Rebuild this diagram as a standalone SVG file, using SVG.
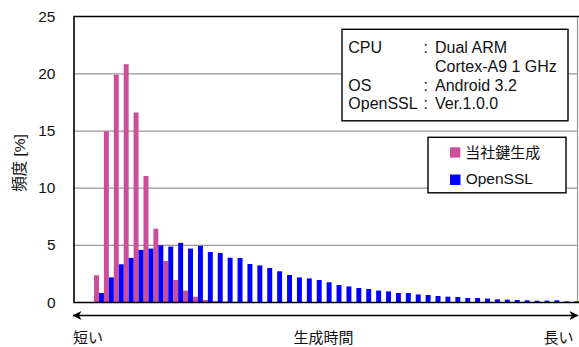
<svg xmlns="http://www.w3.org/2000/svg" width="579" height="347" viewBox="0 0 579 347">
<style>
.t{font-family:"Liberation Sans","Noto Sans CJK JP",sans-serif;font-size:15.5px;fill:#111}
.s{font-size:16px}
.j{font-family:"Noto Sans CJK JP","Liberation Sans",sans-serif;font-size:15px;fill:#111}
.grid{stroke:#999;stroke-width:1.2}
.ax{stroke:#000;stroke-width:1.6;fill:none}
.p{fill:#CC4E9A}
.b{fill:#0000FF}
.box{fill:#fff;stroke:#000;stroke-width:1.4}
</style>
<defs>
<marker id="ah" markerUnits="userSpaceOnUse" viewBox="0 0 9 9" refX="8.5" refY="4.5" markerWidth="9" markerHeight="9" orient="auto-start-reverse">
<path d="M0,0 L9,4.5 L0,9 L2.5,4.5 z" fill="#000"/>
</marker>
</defs>
<rect width="579" height="347" fill="#fff"/>
<g id="gridlines">
<line class="grid" x1="74" y1="245.35" x2="578" y2="245.35"/>
<line class="grid" x1="74" y1="188.2" x2="578" y2="188.2"/>
<line class="grid" x1="74" y1="131.05" x2="578" y2="131.05"/>
<line class="grid" x1="74" y1="73.9" x2="578" y2="73.9"/>
<line class="grid" x1="577.5" y1="16.5" x2="577.5" y2="302.5"/>
</g>
<g id="series-pink">
<rect class="p" x="94" y="275.3" width="4.95" height="27.2"/>
<rect class="p" x="103.9" y="131.3" width="4.95" height="171.2"/>
<rect class="p" x="113.8" y="74.6" width="4.95" height="227.9"/>
<rect class="p" x="123.7" y="64.2" width="4.95" height="238.3"/>
<rect class="p" x="133.6" y="112.5" width="4.95" height="190"/>
<rect class="p" x="143.5" y="176" width="4.95" height="126.5"/>
<rect class="p" x="153.4" y="228.7" width="4.95" height="73.8"/>
<rect class="p" x="163.3" y="261" width="4.95" height="41.5"/>
<rect class="p" x="173.2" y="280" width="4.95" height="22.5"/>
<rect class="p" x="183.1" y="290.6" width="4.95" height="11.9"/>
<rect class="p" x="193" y="296.7" width="4.95" height="5.8"/>
<rect class="p" x="202.9" y="300" width="4.95" height="2.5"/>
<rect class="p" x="212.8" y="301" width="4.95" height="1.5"/>
<rect class="p" x="222.7" y="301.6" width="4.95" height="0.9"/>
</g>
<g id="series-blue">
<rect class="b" x="98.95" y="293" width="4.95" height="9.5"/>
<rect class="b" x="108.85" y="277.4" width="4.95" height="25.1"/>
<rect class="b" x="118.75" y="264.3" width="4.95" height="38.2"/>
<rect class="b" x="128.65" y="257.9" width="4.95" height="44.6"/>
<rect class="b" x="138.55" y="249.9" width="4.95" height="52.6"/>
<rect class="b" x="148.45" y="248.6" width="4.95" height="53.9"/>
<rect class="b" x="158.35" y="245.3" width="4.95" height="57.2"/>
<rect class="b" x="168.25" y="246.6" width="4.95" height="55.9"/>
<rect class="b" x="178.15" y="242.9" width="4.95" height="59.6"/>
<rect class="b" x="188.05" y="248.6" width="4.95" height="53.9"/>
<rect class="b" x="197.95" y="245.9" width="4.95" height="56.6"/>
<rect class="b" x="207.85" y="252" width="4.95" height="50.5"/>
<rect class="b" x="217.75" y="253" width="4.95" height="49.5"/>
<rect class="b" x="227.65" y="257.7" width="4.95" height="44.8"/>
<rect class="b" x="237.55" y="258" width="4.95" height="44.5"/>
<rect class="b" x="247.45" y="264" width="4.95" height="38.5"/>
<rect class="b" x="257.35" y="265.4" width="4.95" height="37.1"/>
<rect class="b" x="267.25" y="268" width="4.95" height="34.5"/>
<rect class="b" x="277.15" y="271.3" width="4.95" height="31.2"/>
<rect class="b" x="287.05" y="275" width="4.95" height="27.5"/>
<rect class="b" x="296.95" y="277.4" width="4.95" height="25.1"/>
<rect class="b" x="306.85" y="278.4" width="4.95" height="24.1"/>
<rect class="b" x="316.75" y="280" width="4.95" height="22.5"/>
<rect class="b" x="326.65" y="282.3" width="4.95" height="20.2"/>
<rect class="b" x="336.55" y="285" width="4.95" height="17.5"/>
<rect class="b" x="346.45" y="286.4" width="4.95" height="16.1"/>
<rect class="b" x="356.35" y="288" width="4.95" height="14.5"/>
<rect class="b" x="366.25" y="289" width="4.95" height="13.5"/>
<rect class="b" x="376.15" y="290.6" width="4.95" height="11.9"/>
<rect class="b" x="386.05" y="291.4" width="4.95" height="11.1"/>
<rect class="b" x="395.95" y="293" width="4.95" height="9.5"/>
<rect class="b" x="405.85" y="293" width="4.95" height="9.5"/>
<rect class="b" x="415.75" y="294.4" width="4.95" height="8.1"/>
<rect class="b" x="425.65" y="295" width="4.95" height="7.5"/>
<rect class="b" x="435.55" y="296" width="4.95" height="6.5"/>
<rect class="b" x="445.45" y="296.7" width="4.95" height="5.8"/>
<rect class="b" x="455.35" y="297" width="4.95" height="5.5"/>
<rect class="b" x="465.25" y="298" width="4.95" height="4.5"/>
<rect class="b" x="475.15" y="298" width="4.95" height="4.5"/>
<rect class="b" x="485.05" y="298.6" width="4.95" height="3.9"/>
<rect class="b" x="494.95" y="299.3" width="4.95" height="3.2"/>
<rect class="b" x="504.85" y="299.6" width="4.95" height="2.9"/>
<rect class="b" x="514.75" y="300" width="4.95" height="2.5"/>
<rect class="b" x="524.65" y="300.3" width="4.95" height="2.2"/>
<rect class="b" x="534.55" y="300.7" width="4.95" height="1.8"/>
<rect class="b" x="544.45" y="300.7" width="4.95" height="1.8"/>
<rect class="b" x="554.35" y="300.3" width="4.95" height="2.2"/>
<rect class="b" x="564.25" y="301.4" width="4.95" height="1.1"/>
<rect class="b" x="574.15" y="301.4" width="4.95" height="1.1"/>
</g>
<g id="axes">
<path class="ax" d="M579,16.5 L74,16.5 L74,302.5 L579,302.5"/>
<g class="t" text-anchor="end">
<text x="55.5" y="307.5">0</text>
<text x="55.5" y="250.4">5</text>
<text x="55.5" y="193.2">10</text>
<text x="55.5" y="136.1">15</text>
<text x="55.5" y="78.9">20</text>
<text x="55.5" y="21.8">25</text>
</g>
<text class="t" font-size="15.5" text-anchor="middle" transform="translate(24.5,163) rotate(-90)">頻度 [%]</text>
</g>
<g id="connectors">
<line x1="73" y1="315.5" x2="578" y2="315.5" stroke="#000" stroke-width="1.5" marker-start="url(#ah)" marker-end="url(#ah)"/>
</g>
<g id="time-labels">
<text class="j" x="73" y="343">短い</text>
<text class="j" x="323.5" y="342.5" text-anchor="middle">生成時間</text>
<text class="j" x="573.5" y="342.5" text-anchor="end">長い</text>
</g>
<g id="spec-box">
<rect class="box" x="342" y="29.3" width="226" height="91.5"/>
<text class="t s" x="348.3" y="53.3">CPU</text>
<text class="t s" x="423.5" y="53.3">:</text>
<text class="t s" x="435" y="53.3">Dual ARM</text>
<text class="t s" x="435" y="71.9">Cortex-A9 1 GHz</text>
<text class="t s" x="348.3" y="90.5">OS</text>
<text class="t s" x="423.5" y="90.5">:</text>
<text class="t s" x="435" y="90.5">Android 3.2</text>
<text class="t s" x="348.3" y="109.1">OpenSSL</text>
<text class="t s" x="423.5" y="109.1">:</text>
<text class="t s" x="435" y="109.1">Ver.1.0.0</text>
</g>
<g id="legend">
<rect class="box" x="428" y="137.3" width="138" height="55.5"/>
<rect class="p" x="450" y="147.3" width="10.3" height="10.3"/>
<text class="j" x="465.3" y="158" font-size="15.5">当社鍵生成</text>
<rect class="b" x="450" y="174.5" width="10.5" height="10.5"/>
<text class="t" x="465.7" y="184.3">OpenSSL</text>
</g>
</svg>
